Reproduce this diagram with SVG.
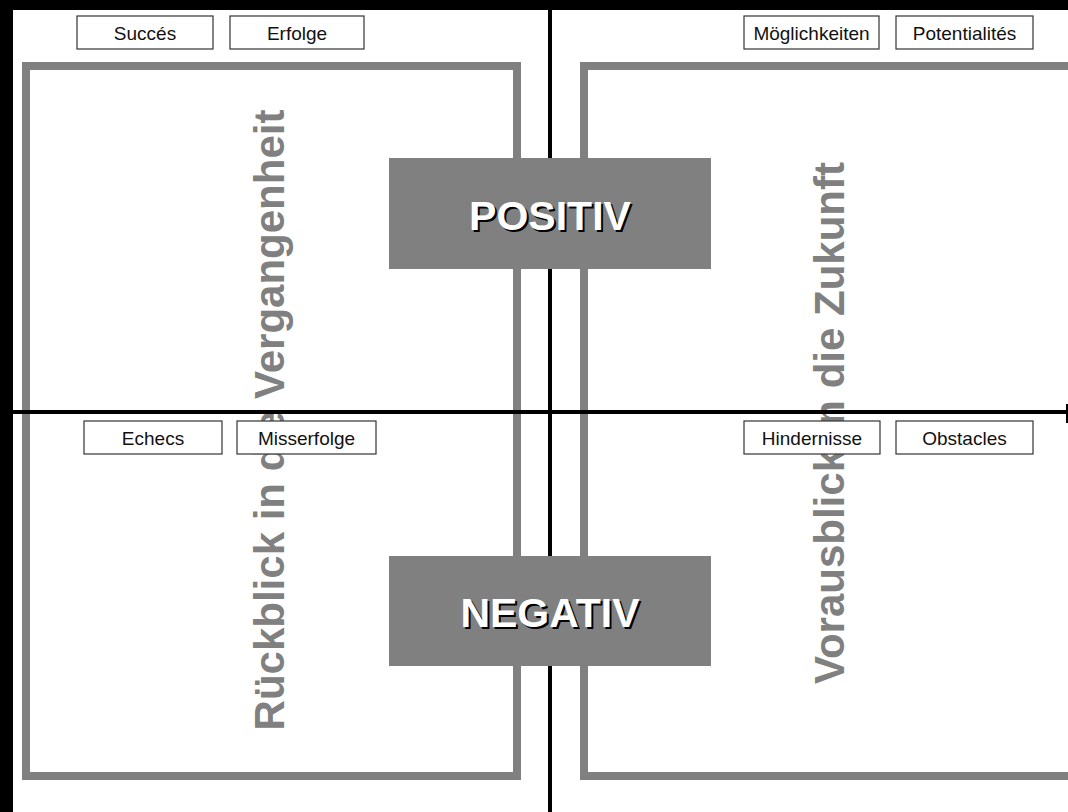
<svg xmlns="http://www.w3.org/2000/svg" width="1068" height="812" viewBox="0 0 1068 812">
<style>
.frame{fill:none;stroke:#808080;stroke-width:8}
.axis{stroke:#000;stroke-width:4;fill:none}
.lbl rect{fill:#fff;stroke:#333;stroke-width:1.2}
.lbl text{font-family:"Liberation Sans",Arial,sans-serif;font-size:19px;fill:#111;text-anchor:middle}
.big{fill:#808080}
.bigtxt{font-family:"Liberation Sans",Arial,sans-serif;font-weight:bold;font-size:41px;text-anchor:middle}
.vert{font-family:"Liberation Sans",Arial,sans-serif;font-weight:bold;font-size:42px;fill:#808080;text-anchor:middle}
</style>
<rect x="0" y="0" width="1068" height="812" fill="#fff"/>
<g id="frames">
<rect class="frame" x="26" y="66" width="491" height="710"/>
<rect class="frame" x="584" y="66" width="500" height="710"/>
</g>
<g id="titles">
<text class="vert" transform="translate(284,420) rotate(-90)">Rückblick in die Vergangenheit</text>
<text class="vert" transform="translate(844,423) rotate(-90)">Vorausblick in die Zukunft</text>
</g>
<g id="connectors">
<line class="axis" x1="550" y1="10" x2="550" y2="812"/>
<line class="axis" x1="13" y1="412" x2="1066" y2="412"/>
<line x1="1067" y1="404" x2="1067" y2="423" stroke="#000" stroke-width="2"/>
</g>
<g id="succes" class="lbl"><rect x="77" y="16" width="136" height="33"/><text x="145" y="40">Succés</text></g>
<g id="erfolge" class="lbl"><rect x="230" y="16" width="134" height="33"/><text x="297" y="40">Erfolge</text></g>
<g id="moeglichkeiten" class="lbl"><rect x="744" y="16" width="135" height="33"/><text x="811.5" y="40">Möglichkeiten</text></g>
<g id="potentialites" class="lbl"><rect x="896" y="16" width="137" height="33"/><text x="964.5" y="40">Potentialités</text></g>
<g id="echecs" class="lbl"><rect x="84" y="421" width="138" height="33"/><text x="153" y="445">Echecs</text></g>
<g id="misserfolge" class="lbl"><rect x="237" y="421" width="139" height="33"/><text x="306.5" y="445">Misserfolge</text></g>
<g id="hindernisse" class="lbl"><rect x="744" y="421" width="136" height="33"/><text x="812" y="445">Hindernisse</text></g>
<g id="obstacles" class="lbl"><rect x="896" y="421" width="137" height="33"/><text x="964.5" y="445">Obstacles</text></g>
<g id="positiv">
<rect class="big" x="389" y="158" width="322" height="111"/>
<text class="bigtxt" x="552" y="232" fill="#000">POSITIV</text>
<text class="bigtxt" x="550" y="230" fill="#fff">POSITIV</text>
</g>
<g id="negativ">
<rect class="big" x="389" y="556" width="322" height="110"/>
<text class="bigtxt" x="552" y="629" fill="#000">NEGATIV</text>
<text class="bigtxt" x="550" y="627" fill="#fff">NEGATIV</text>
</g>
<rect x="0" y="0" width="1068" height="10" fill="#000"/>
<rect x="0" y="0" width="13" height="812" fill="#000"/>
</svg>
